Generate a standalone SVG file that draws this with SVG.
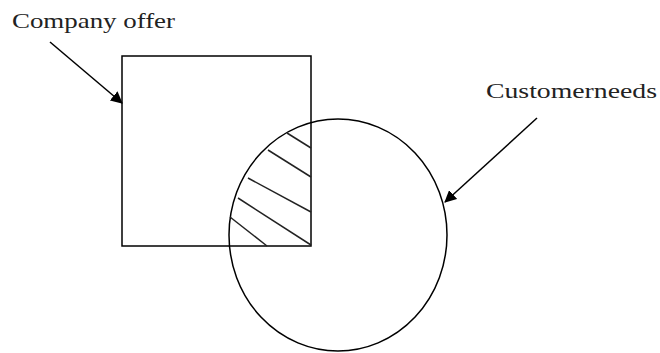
<svg xmlns="http://www.w3.org/2000/svg" width="660" height="353" viewBox="0 0 660 353">
<defs>
<style>
.s{fill:none;stroke:#000;stroke-width:1.5}
.h{stroke:#222;stroke-width:1.5}
.t{font-family:"Liberation Serif",serif;font-size:22px;fill:#222}
</style>
<marker id="ah" markerWidth="12" markerHeight="12" refX="11" refY="6" orient="auto" markerUnits="userSpaceOnUse">
<path d="M0,0 L12,6 L0,12 z" fill="#000"/>
</marker>
</defs>
<rect width="660" height="353" fill="#fff"/>
<g id="company-offer">
<rect class="s" x="122" y="56" width="189" height="190"/>
<text class="t" x="12" y="28" textLength="163" lengthAdjust="spacingAndGlyphs">Company offer</text>
</g>
<g id="customer-needs">
<ellipse class="s" cx="338" cy="235" rx="109" ry="116" stroke="#333"/>
<text class="t" x="486" y="98" textLength="171" lengthAdjust="spacingAndGlyphs">Customerneeds</text>
</g>
<g id="overlap">
<line class="h" x1="287" y1="133" x2="311" y2="148"/>
<line class="h" x1="268" y1="150" x2="311" y2="177"/>
<line class="h" x1="248" y1="178" x2="311" y2="212"/>
<line class="h" x1="238" y1="198" x2="311" y2="245"/>
<line class="h" x1="230" y1="217" x2="267" y2="246"/>
</g>
<g id="connectors">
<line class="s" x1="50" y1="42" x2="122" y2="103" marker-end="url(#ah)"/>
<line class="s" x1="537" y1="118" x2="445" y2="202" marker-end="url(#ah)"/>
</g>
</svg>
